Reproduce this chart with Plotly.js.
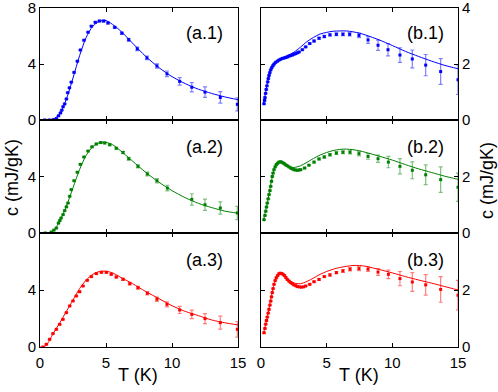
<!DOCTYPE html>
<html>
<head>
<meta charset="utf-8">
<script src="https://cdn.plot.ly/plotly-3.0.1.min.js"></script>
<style>
  html, body { margin: 0; padding: 0; background: #fff; }
  #chart { width: 498px; height: 392px; }
</style>
</head>
<body>
<div id="chart"></div>
<script>
// measured points (T in K, c in mJ/gK) and error bars
var ta1 = [0.35, 0.7, 1.0, 1.24, 1.4, 1.55, 1.65, 1.75, 1.87, 2.0, 2.1, 2.23, 2.37, 2.58, 2.83, 3.06, 3.33, 3.64, 3.89, 4.19, 4.5, 4.82, 5.15, 5.66, 6.2, 6.72, 7.37, 8.1, 8.86, 9.62, 10.58, 11.5, 12.5, 13.66, 14.95];
var ca1 = [0, 0, 0.02, 0.1, 0.3, 0.5, 0.7, 0.95, 1.15, 1.5, 1.95, 2.3, 2.7, 3.4, 4.2, 5.0, 5.7, 6.27, 6.7, 6.98, 7.07, 7.07, 6.93, 6.62, 6.2, 5.73, 5.08, 4.44, 3.86, 3.3, 2.76, 2.34, 1.99, 1.61, 1.12];
var ea1 = [0.02, 0.02, 0.02, 0.02, 0.02, 0.02, 0.02, 0.02, 0.02, 0.02, 0.02, 0.02, 0.02, 0.02, 0.03, 0.03, 0.03, 0.03, 0.04, 0.05, 0.05, 0.06, 0.06, 0.07, 0.08, 0.1, 0.12, 0.13, 0.15, 0.2, 0.27, 0.33, 0.37, 0.41, 0.47];

var ta2 = [0.4, 0.86, 1.05, 1.24, 1.4, 1.5, 1.6, 1.75, 1.87, 2.0, 2.12, 2.25, 2.37, 2.58, 2.83, 3.06, 3.33, 3.64, 3.94, 4.27, 4.6, 4.9, 5.28, 5.78, 6.29, 6.72, 7.42, 8.13, 8.86, 9.65, 11.5, 12.5, 13.66, 14.95];
var ca2 = [0, 0.07, 0.2, 0.35, 0.7, 0.88, 1.06, 1.3, 1.58, 1.85, 2.12, 2.6, 3.07, 3.7, 4.3, 4.86, 5.38, 5.8, 6.1, 6.3, 6.4, 6.37, 6.25, 6.0, 5.7, 5.26, 4.72, 4.18, 3.7, 3.18, 2.38, 2.0, 1.77, 1.42];
var ea2 = [0.02, 0.02, 0.02, 0.02, 0.02, 0.02, 0.02, 0.02, 0.02, 0.02, 0.02, 0.02, 0.02, 0.02, 0.03, 0.03, 0.03, 0.03, 0.04, 0.04, 0.05, 0.05, 0.06, 0.07, 0.08, 0.1, 0.11, 0.13, 0.15, 0.2, 0.4, 0.4, 0.43, 0.47];

var ta3 = [0.23, 0.48, 0.73, 0.98, 1.24, 1.49, 1.74, 2.0, 2.25, 2.5, 2.75, 3.0, 3.26, 3.58, 3.89, 4.27, 4.65, 5.03, 5.4, 5.78, 6.29, 6.8, 7.42, 8.13, 8.86, 9.62, 10.58, 11.5, 12.5, 13.66, 14.95];
var ca3 = [0, 0.19, 0.54, 0.94, 1.24, 1.59, 1.94, 2.41, 2.88, 3.23, 3.58, 3.88, 4.28, 4.68, 4.94, 5.15, 5.24, 5.24, 5.1, 4.91, 4.75, 4.44, 4.16, 3.77, 3.35, 2.99, 2.6, 2.29, 1.99, 1.71, 1.24];
var ea3 = [0.02, 0.02, 0.02, 0.02, 0.02, 0.02, 0.02, 0.02, 0.02, 0.02, 0.03, 0.03, 0.03, 0.03, 0.04, 0.04, 0.04, 0.05, 0.05, 0.06, 0.07, 0.09, 0.1, 0.12, 0.15, 0.17, 0.25, 0.3, 0.35, 0.45, 0.55];

var tb1 = [0.23, 0.27, 0.3, 0.35, 0.4, 0.45, 0.51, 0.56, 0.61, 0.67, 0.74, 0.82, 0.91, 1.0, 1.12, 1.25, 1.37, 1.5, 1.62, 1.75, 1.88, 2.0, 2.13, 2.26, 2.39, 2.52, 2.64, 2.77, 2.9, 3.15, 3.4, 3.71, 4.04, 4.42, 4.82, 5.25, 5.74, 6.24, 6.75, 7.46, 8.15, 8.91, 9.67, 10.58, 11.52, 12.54, 13.68, 15.0];
var cb1 = [0.58, 0.7, 0.8, 0.95, 1.09, 1.22, 1.36, 1.48, 1.59, 1.69, 1.79, 1.87, 1.94, 2.0, 2.06, 2.1, 2.14, 2.17, 2.2, 2.21, 2.23, 2.25, 2.28, 2.3, 2.32, 2.35, 2.37, 2.4, 2.43, 2.51, 2.61, 2.73, 2.82, 2.92, 2.98, 3.04, 3.06, 3.06, 3.06, 3.02, 2.86, 2.67, 2.51, 2.32, 2.18, 1.96, 1.73, 1.44];
var eb1 = [0.01, 0.01, 0.01, 0.01, 0.01, 0.01, 0.01, 0.01, 0.01, 0.01, 0.01, 0.01, 0.01, 0.01, 0.01, 0.01, 0.01, 0.01, 0.01, 0.01, 0.01, 0.01, 0.01, 0.01, 0.01, 0.01, 0.01, 0.01, 0.01, 0.01, 0.02, 0.02, 0.03, 0.03, 0.04, 0.04, 0.05, 0.05, 0.06, 0.08, 0.12, 0.18, 0.22, 0.26, 0.32, 0.38, 0.46, 0.53];

var tb2 = [0.23, 0.3, 0.36, 0.42, 0.48, 0.55, 0.61, 0.68, 0.74, 0.8, 0.86, 0.92, 0.99, 1.08, 1.17, 1.27, 1.37, 1.47, 1.57, 1.68, 1.78, 1.89, 2.0, 2.13, 2.26, 2.38, 2.51, 2.64, 2.77, 2.9, 3.02, 3.32, 3.65, 4.04, 4.42, 4.82, 5.25, 5.74, 6.24, 6.78, 7.46, 8.15, 8.91, 9.7, 10.58, 11.52, 12.54, 13.68, 15.0];
var cb2 = [0.47, 0.62, 0.77, 0.92, 1.06, 1.21, 1.36, 1.5, 1.65, 1.83, 2.0, 2.12, 2.24, 2.34, 2.42, 2.47, 2.51, 2.52, 2.51, 2.48, 2.45, 2.41, 2.38, 2.34, 2.3, 2.27, 2.24, 2.23, 2.22, 2.23, 2.24, 2.3, 2.4, 2.51, 2.62, 2.69, 2.77, 2.83, 2.86, 2.86, 2.81, 2.71, 2.63, 2.51, 2.36, 2.22, 2.06, 1.89, 1.62];
var eb2 = [0.01, 0.01, 0.01, 0.01, 0.01, 0.01, 0.01, 0.01, 0.01, 0.01, 0.01, 0.01, 0.01, 0.01, 0.01, 0.01, 0.01, 0.01, 0.01, 0.01, 0.01, 0.01, 0.01, 0.01, 0.01, 0.01, 0.01, 0.01, 0.01, 0.01, 0.01, 0.02, 0.02, 0.03, 0.03, 0.04, 0.04, 0.05, 0.05, 0.06, 0.08, 0.1, 0.13, 0.2, 0.27, 0.3, 0.35, 0.45, 0.5];

var tb3 = [0.23, 0.3, 0.36, 0.42, 0.48, 0.55, 0.61, 0.68, 0.74, 0.8, 0.86, 0.92, 0.99, 1.08, 1.17, 1.27, 1.37, 1.47, 1.57, 1.68, 1.78, 1.89, 2.0, 2.13, 2.26, 2.38, 2.51, 2.64, 2.77, 2.92, 3.07, 3.23, 3.4, 3.71, 4.04, 4.42, 4.82, 5.25, 5.74, 6.24, 6.78, 7.46, 8.15, 8.91, 9.7, 10.58, 11.52, 12.54, 13.68, 15.0];
var cb3 = [0.5, 0.65, 0.8, 0.93, 1.05, 1.19, 1.32, 1.47, 1.61, 1.76, 1.91, 2.05, 2.2, 2.33, 2.43, 2.51, 2.57, 2.59, 2.58, 2.55, 2.51, 2.44, 2.37, 2.31, 2.26, 2.22, 2.18, 2.15, 2.12, 2.11, 2.1, 2.11, 2.14, 2.2, 2.29, 2.37, 2.47, 2.53, 2.61, 2.67, 2.73, 2.75, 2.73, 2.63, 2.55, 2.4, 2.28, 2.18, 2.02, 1.82];
var eb3 = [0.01, 0.01, 0.01, 0.01, 0.01, 0.01, 0.01, 0.01, 0.01, 0.01, 0.01, 0.01, 0.01, 0.01, 0.01, 0.01, 0.01, 0.01, 0.01, 0.01, 0.01, 0.01, 0.01, 0.01, 0.01, 0.01, 0.01, 0.01, 0.01, 0.01, 0.01, 0.01, 0.01, 0.02, 0.02, 0.03, 0.03, 0.04, 0.04, 0.05, 0.06, 0.07, 0.08, 0.12, 0.15, 0.25, 0.33, 0.36, 0.45, 0.52];

// fitted curves
var fta1 = [0, 0.5, 1, 1.5, 2, 2.5, 3, 3.5, 4, 4.5, 5, 6, 7, 8, 9, 10, 11, 12, 13, 14, 15];
var fca1 = [0, 0, 0.05, 0.45, 1.5, 3.0, 4.6, 5.9, 6.7, 7.05, 7.1, 6.45, 5.5, 4.55, 3.75, 3.1, 2.6, 2.2, 1.9, 1.65, 1.45];
var fta2 = [0, 0.5, 1, 1.5, 2, 2.5, 3, 3.5, 4, 4.5, 5, 5.5, 6, 7, 8, 9, 10, 11, 12, 13, 14, 15];
var fca2 = [0, 0, 0.15, 0.85, 1.9, 3.2, 4.5, 5.5, 6.1, 6.4, 6.42, 6.25, 5.9, 5.1, 4.3, 3.6, 3.0, 2.5, 2.1, 1.8, 1.55, 1.4];
var fta3 = [0, 0.25, 0.5, 1, 1.5, 2, 2.5, 3, 3.5, 4, 4.5, 5, 5.5, 6, 7, 8, 9, 10, 11, 12, 13, 14, 15];
var fca3 = [0, 0, 0.15, 0.95, 1.7, 2.5, 3.3, 4.1, 4.7, 5.1, 5.3, 5.32, 5.2, 4.95, 4.45, 3.9, 3.4, 2.9, 2.5, 2.2, 1.9, 1.7, 1.55];
var ftb1 = [0.2, 0.4, 0.6, 0.8, 1, 1.5, 2, 2.5, 3, 3.5, 4, 4.5, 5, 5.5, 6, 6.5, 7, 7.5, 8, 9, 10, 11, 12, 13, 14, 15];
var fcb1 = [0.6, 1.1, 1.6, 1.9, 2.05, 2.2, 2.3, 2.42, 2.6, 2.8, 2.95, 3.07, 3.13, 3.17, 3.18, 3.18, 3.15, 3.1, 3.03, 2.86, 2.66, 2.45, 2.27, 2.1, 1.95, 1.83];
var ftb2 = [0.2, 0.5, 0.8, 1, 1.2, 1.4, 1.6, 1.8, 2, 2.5, 3, 3.5, 4, 4.5, 5, 5.5, 6, 6.5, 7, 7.5, 8, 9, 10, 11, 12, 13, 14, 15];
var fcb2 = [0.47, 1.1, 1.85, 2.25, 2.45, 2.52, 2.5, 2.43, 2.37, 2.32, 2.38, 2.5, 2.64, 2.76, 2.85, 2.92, 2.96, 2.97, 2.95, 2.91, 2.85, 2.72, 2.58, 2.42, 2.27, 2.14, 2.01, 1.9];
var ftb3 = [0.2, 0.5, 0.8, 1, 1.2, 1.4, 1.6, 1.8, 2, 2.5, 3, 3.5, 4, 4.5, 5, 5.5, 6, 6.5, 7, 7.5, 8, 9, 10, 11, 12, 13, 14, 15];
var fcb3 = [0.5, 1.1, 1.8, 2.2, 2.45, 2.57, 2.57, 2.5, 2.4, 2.25, 2.22, 2.3, 2.42, 2.55, 2.65, 2.73, 2.79, 2.83, 2.86, 2.86, 2.83, 2.72, 2.6, 2.47, 2.35, 2.24, 2.12, 2.0];

var blue = 'rgb(0,0,255)', green = 'rgb(0,128,0)', red = 'rgb(255,0,0)';

function panel(t, c, e, ft, fc, col, errCol, n){
	var xa = n === 1 ? 'x' : 'x' + n;
	var ya = n === 1 ? 'y' : 'y' + n;
	return [{
		x: ft, y: fc, xaxis: xa, yaxis: ya,
		type: 'scatter', mode: 'lines',
		line: {color: col, width: 1, shape: 'spline', smoothing: 0.8},
		hoverinfo: 'skip'
	}, {
		x: t, y: c, xaxis: xa, yaxis: ya,
		type: 'scatter', mode: 'markers',
		marker: {color: col, size: 3, symbol: 'square'},
		error_y: {type: 'data', array: e, visible: true, color: errCol, thickness: 1.2, width: 2}
	}];
}

var data = [].concat(
	panel(ta1, ca1, ea1, fta1, fca1, blue, 'rgba(0,0,255,0.5)', 1),
	panel(tb1, cb1, eb1, ftb1, fcb1, blue, 'rgba(0,0,255,0.5)', 2),
	panel(ta2, ca2, ea2, fta2, fca2, green, 'rgba(0,128,0,0.5)', 3),
	panel(tb2, cb2, eb2, ftb2, fcb2, green, 'rgba(0,128,0,0.5)', 4),
	panel(ta3, ca3, ea3, fta3, fca3, red, 'rgba(255,0,0,0.5)', 5),
	panel(tb3, cb3, eb3, ftb3, fcb3, red, 'rgba(255,0,0,0.5)', 6)
);

var W = 498, H = 392;
var leftDom = [40 / W, 238 / W];
var rightDom = [261 / W, 458 / W];
var rows = [[1 - 120 / H, 1 - 8 / H], [1 - 233 / H, 1 - 120 / H], [1 - 347 / H, 1 - 233 / H]];
var tickFont = {family: 'Liberation Sans, Arial, sans-serif', size: 15, color: '#000'};

function xAxis(dom, anchor, labels){
	return {
		domain: dom, anchor: anchor, range: [0, 15], tickvals: [0, 5, 10, 15],
		showticklabels: labels, ticks: 'inside', ticklen: 4, tickcolor: '#000',
		showline: true, linecolor: '#000', linewidth: 1, mirror: 'ticks',
		showgrid: false, zeroline: false, tickfont: tickFont, fixedrange: true,
		ticklabeloverflow: 'allow', ticklabelstandoff: 2
	};
}
function yAxis(dom, anchor, rng, tv, side){
	return {
		domain: dom, anchor: anchor, range: rng, tickvals: tv, side: side,
		ticks: 'inside', ticklen: 4, tickcolor: '#000',
		showline: true, linecolor: '#000', linewidth: 1, mirror: 'ticks',
		showgrid: false, zeroline: false, tickfont: tickFont, fixedrange: true,
		ticklabeloverflow: 'allow'
	};
}

var labFont = {family: 'Liberation Sans, Arial, sans-serif', size: 18, color: '#000'};
function note(text, x, y, angle){
	return {text: text, x: x / W, y: 1 - y / H, xref: 'paper', yref: 'paper',
		showarrow: false, font: labFont, textangle: angle || 0,
		xanchor: 'center', yanchor: 'middle'};
}

var layout = {
	width: W, height: H,
	margin: {l: 0, r: 0, t: 0, b: 0},
	paper_bgcolor: '#fff', plot_bgcolor: '#fff',
	showlegend: false,
	xaxis: xAxis(leftDom, 'y', false),
	xaxis2: xAxis(rightDom, 'y2', false),
	xaxis3: xAxis(leftDom, 'y3', false),
	xaxis4: xAxis(rightDom, 'y4', false),
	xaxis5: xAxis(leftDom, 'y5', true),
	xaxis6: xAxis(rightDom, 'y6', true),
	yaxis: yAxis(rows[0], 'x', [0, 8], [0, 4, 8], 'left'),
	yaxis2: yAxis(rows[0], 'x2', [0, 4], [0, 2, 4], 'right'),
	yaxis3: yAxis(rows[1], 'x3', [0, 8], [0, 4], 'left'),
	yaxis4: yAxis(rows[1], 'x4', [0, 4], [0, 2], 'right'),
	yaxis5: yAxis(rows[2], 'x5', [0, 8], [0, 4], 'left'),
	yaxis6: yAxis(rows[2], 'x6', [0, 4], [0, 2], 'right'),
	annotations: [
		note('(a.1)', 204, 33), note('(b.1)', 425, 33),
		note('(a.2)', 204, 147), note('(b.2)', 425, 147),
		note('(a.3)', 204, 260), note('(b.3)', 425, 260),
		note('T (K)', 138, 375), note('T (K)', 359, 375),
		note('c (mJ/gK)', 12, 178, -90), note('c (mJ/gK)', 487, 181, -90)
	]
};

Plotly.newPlot('chart', data, layout, {displayModeBar: false, staticPlot: true});
</script>
</body>
</html>
